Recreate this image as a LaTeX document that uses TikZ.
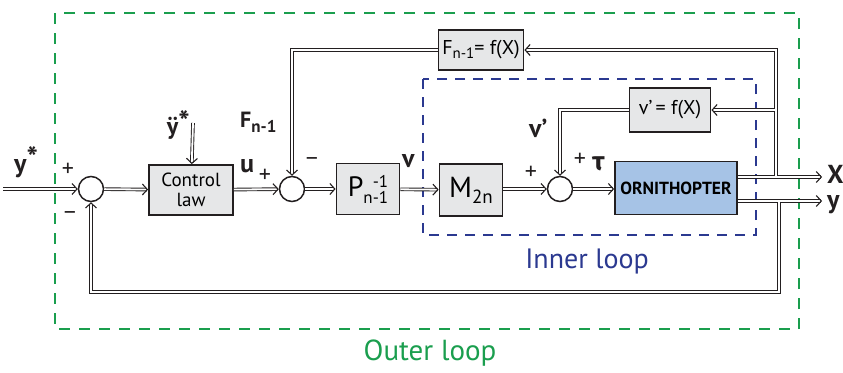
\documentclass[tikz,border=0pt]{standalone}
\usepackage{fontspec}
\setmainfont{PT Sans}
\newfontfamily\greekfont{Fira Sans}
\usetikzlibrary{arrows.meta}
\definecolor{olgreen}{HTML}{1A9E4E}
\definecolor{ilblue}{HTML}{2B3990}
\definecolor{boxgray}{HTML}{E6E7E8}
\definecolor{orniblue}{HTML}{A6C3E6}
\definecolor{inkdark}{HTML}{231F20}
\newcommand\fsz[1]{\fontsize{#1}{1.2\dimexpr#1pt\relax}\selectfont}
\newcommand\starup[1]{\raisebox{#1}{\fsz{30}*}}

\tikzset{
  blk/.style={rectangle, draw=inkdark, line width=1.8pt, fill=boxgray, inner sep=0pt},
  sumpt/.style={circle, draw=inkdark, line width=1.5pt, minimum size=25pt, inner sep=0pt},
  wire/.style={draw=inkdark, line width=0.9pt, double=white, double distance=1.8pt},
  sig/.style={wire, -{Straight Barb[length=5pt,width=11pt,line width=1.1pt]}},
  lbl/.style={font=\fsz{26}\bfseries, text=inkdark, inner sep=0pt},
  sgn/.style={font=\fsz{24}, text=inkdark, inner sep=0pt},
}

\begin{document}
\begin{tikzpicture}[x=1pt,y=-1pt]
\useasboundingbox (0,0) rectangle (843,372);

% loop frames
\draw[olgreen, line width=1.8pt, dash pattern=on 11pt off 9pt] (55,13) rectangle (799,329);
\draw[ilblue, line width=1.6pt, dash pattern=on 10pt off 8pt] (423,79) rectangle (756,235);
\node[text=ilblue, font=\fsz{28}] (innerlbl) at (587,261) {Inner loop};
\node[text=olgreen, font=\fsz{29}] (outerlbl) at (430,353) {Outer loop};

% blocks
\node[sumpt] (sa) at (91,189) {};
\node[blk, minimum width=84pt, minimum height=50pt, align=center, font=\fontsize{19}{20}\selectfont] (law) at (191,190) {Control\\law};
\node[sumpt] (sb) at (292,189) {};
\node[blk, minimum width=63pt, minimum height=51pt, font=\fsz{28}] (pinv) at (368,189)
  {P\raisebox{-7pt}{\fsz{17}n-1}\llap{\raisebox{9pt}{\fsz{17}-1}}};
\node[blk, minimum width=63pt, minimum height=52pt, font=\fsz{29}] (mtwo) at (471,190)
  {M\raisebox{-6pt}{\fsz{19}2n}};
\node[sumpt] (sc) at (560,189) {};
\node[blk, fill=orniblue, minimum width=122pt, minimum height=53pt, font=\fsz{17.5}\bfseries] (orni) at (676,188) {ORNITHOPTER};
\node[blk, minimum width=85pt, minimum height=40pt, font=\fsz{20}] (fbox) at (481,50)
  {F\raisebox{-4pt}{\fsz{15}n-1}= f(X)};
\node[blk, minimum width=81pt, minimum height=44pt, font=\fsz{20}] (vbox) at (670,110) {v'\,= f(X)};

% junctions and corners
\coordinate (yin) at (3,189);
\coordinate (ydd) at (193,123);
\coordinate (xo) at (822,177);
\coordinate (yo) at (822,201);
\coordinate (jx) at (776,177);
\coordinate (jv) at (776,110);
\coordinate (ftop) at (776,50);
\coordinate (fl) at (292,50);
\coordinate (vl) at (560,110);
\coordinate (jy) at (779,201);
\coordinate (br) at (779,292);
\coordinate (bl) at (91,292);

% forward path
\draw[sig] (yin) -- (sa);
\draw[sig] (sa) -- (law);
\draw[sig] (ydd) -- (law);
\draw[sig] (law) -- (sb);
\draw[sig] (sb) -- (pinv);
\draw[sig] (pinv) -- (mtwo);
\draw[sig] (mtwo.east |- sc) -- (sc);
\draw[sig] (sc) -- (orni.west |- sc);
\draw[sig] (orni.east |- xo) -- (xo);
\draw[sig] (orni.east |- yo) -- (yo);

% feedback paths
\draw[sig, shorten <=0.9pt] (jx) -- (ftop) -- (fbox.east);
\draw[sig] (fbox.west) -- (fl) -- (sb);
\draw[sig, shorten <=0.9pt] (jv) -- (vbox.east);
\draw[sig] (vbox.west) -- (vl) -- (sc);
\draw[sig, shorten <=0.9pt] (jy) -- (br) -- (bl) -- (sa);

% labels
\node[lbl, anchor=base west] (ystar) at (14,172) {y\starup{4pt}};
\node[lbl, font=\fsz{24}\bfseries, anchor=base east] (yddl) at (190,134) {ÿ\starup{2pt}};
\node[lbl, anchor=base west] (ul) at (240,172) {u};
\node[lbl, font=\fsz{22}\bfseries, anchor=base west] (fl1) at (240,127) {F\raisebox{-5pt}{\fsz{17}n-1}};
\node[lbl, anchor=base west] (vlab) at (402,167) {v};
\node[lbl, anchor=base west] (vpl) at (529,137) {v'};
\node[lbl, font=\fsz{26}\bfseries\greekfont, anchor=base west] (taul) at (592,170) {τ};
\node[lbl, anchor=base west] (xl) at (827,183) {X};
\node[lbl, anchor=base west] (yl) at (827,208) {y};
\node[sgn] (pa) at (68,170) {+};
\node[sgn] (ma) at (70,216) {−};
\node[sgn] (pb) at (265,176) {+};
\node[sgn] (mb) at (312,162) {−};
\node[sgn] (pc) at (531,173) {+};
\node[sgn] (pd) at (580,160) {+};
\end{tikzpicture}
\end{document}
